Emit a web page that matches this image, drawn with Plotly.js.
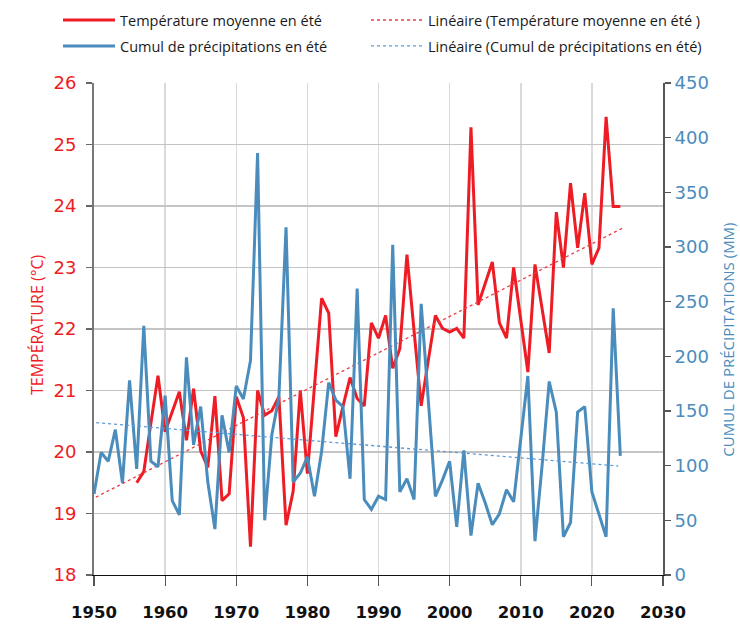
<!DOCTYPE html>
<html>
<head>
<meta charset="utf-8">
<script src="https://cdn.plot.ly/plotly-3.0.1.min.js"></script>
<style>
  html, body { margin: 0; padding: 0; background: #ffffff; }
  #chart { width: 740px; height: 628px; }
</style>
</head>
<body>
<div id="chart"></div>
<script>
// ---- Data ----
const years = [
  1950,1951,1952,1953,1954,1955,1956,1957,1958,1959,
  1960,1961,1962,1963,1964,1965,1966,1967,1968,1969,
  1970,1971,1972,1973,1974,1975,1976,1977,1978,1979,
  1980,1981,1982,1983,1984,1985,1986,1987,1988,1989,
  1990,1991,1992,1993,1994,1995,1996,1997,1998,1999,
  2000,2001,2002,2003,2004,2005,2006,2007,2008,2009,
  2010,2011,2012,2013,2014,2015,2016,2017,2018,2019,
  2020,2021,2022,2023,2024
];

// Summer mean temperature (°C); no data before 1956
const temperature = [
  null,null,null,null,null,null,19.50,19.68,20.47,21.24,
  20.33,20.65,20.98,20.19,21.03,20.02,19.75,20.91,19.21,19.32,
  20.90,20.56,18.46,21.00,20.60,20.67,20.90,18.81,19.36,21.00,
  19.65,21.07,22.50,22.26,20.25,20.74,21.21,20.87,20.75,22.10,
  21.85,22.22,21.36,21.68,23.21,21.97,20.75,21.49,22.22,22.01,
  21.95,22.01,21.85,25.28,22.39,22.74,23.09,22.10,21.85,23.00,
  22.15,21.30,23.05,22.33,21.61,23.90,23.00,24.37,23.32,24.21,
  23.05,23.32,25.45,23.99,23.99
];

// Summer cumulative precipitation (mm)
const precipitation = [
  74,112,104,133,84,178,97,228,104,99,
  164,68,55,199,119,154,85,42,146,112,
  173,161,196,386,50,128,163,318,85,93,
  108,72,113,176,160,154,88,262,69,60,
  72,69,302,76,88,69,248,160,72,87,
  104,44,114,36,84,66,46,56,78,67,
  125,182,31,100,177,149,35,48,149,154,
  76,56,35,244,109
];

// Linear trend lines (end points)
const trendYears = [1949.5, 2024.3];
const trendTemperature = [19.22, 23.64];
const trendPrecipYears = [1950.3, 2023.7];
const trendPrecipitation = [139.3, 99.7];

// Labels
const nameTemp = 'Température moyenne en été';
const namePrecip = 'Cumul de précipitations en été';
const nameTrendTemp = 'Linéaire (Température moyenne en été )';
const nameTrendPrecip = 'Linéaire (Cumul de précipitations en été)';
const yTitleLeft = 'TEMPÉRATURE (°C)';
const yTitleRight = 'CUMUL DE PRÉCIPITATIONS (MM)';

// ---- Styling ----
const RED = '#ee1c25';
const BLUE = '#4a8cbc';
const FONT = 'Open Sans, Lato, sans-serif';
const NUMFONT = 'DejaVu Sans, sans-serif';

const traces = [
  {
    x: years, y: temperature, type: 'scatter', mode: 'lines',
    name: nameTemp, line: { color: RED, width: 3 },
    connectgaps: false, legend: 'legend'
  },
  {
    x: trendYears, y: trendTemperature, type: 'scatter', mode: 'lines',
    name: nameTrendTemp, line: { color: '#ee3a42', width: 1.3, dash: 'dot' },
    legend: 'legend3'
  },
  {
    x: years, y: precipitation, type: 'scatter', mode: 'lines',
    name: namePrecip, yaxis: 'y2', line: { color: BLUE, width: 3 },
    legend: 'legend2'
  },
  {
    x: trendPrecipYears, y: trendPrecipitation, type: 'scatter', mode: 'lines',
    name: nameTrendPrecip, yaxis: 'y2', line: { color: '#5b9bd5', width: 1.3, dash: 'dot' },
    legend: 'legend4'
  }
];

const legendFont = { family: FONT, size: 14.5, color: '#1a1a1a', weight: 500 };
function mkLegend(x, y) {
  return {
    x: x, y: y, xanchor: 'left', yanchor: 'middle',
    xref: 'container', yref: 'container', itemwidth: 52,
    bgcolor: 'rgba(0,0,0,0)', borderwidth: 0,
    font: legendFont, itemclick: false, itemdoubleclick: false
  };
}

const layout = {
  width: 740, height: 628,
  margin: { l: 94, r: 77, t: 83, b: 53, pad: 0, autoexpand: false },
  paper_bgcolor: '#ffffff', plot_bgcolor: '#ffffff',
  font: { family: FONT, size: 14, color: '#111' },
  showlegend: true,
  legend: mkLegend(0.0784, 0.968),
  legend2: mkLegend(0.0784, 0.9268),
  legend3: mkLegend(0.4946, 0.968),
  legend4: mkLegend(0.4946, 0.9268),
  xaxis: {
    range: [1950, 2030], tick0: 1950, dtick: 10,
    showgrid: true, gridcolor: '#dadada', gridwidth: 1.5,
    zeroline: false, showline: true, linecolor: '#111', linewidth: 1.3,
    ticks: 'outside', ticklen: 10, tickcolor: '#555', tickwidth: 1.2,
    ticklabelstandoff: 12,
    tickfont: { family: NUMFONT, size: 16.5, color: '#111', weight: 'bold' }
  },
  yaxis: {
    range: [18, 26], dtick: 1,
    showgrid: true, gridcolor: '#c4c4c4', gridwidth: 1.5,
    zeroline: false, showline: true, linecolor: '#777', linewidth: 2,
    ticks: 'outside', ticklen: 6, tickcolor: '#666', tickwidth: 1.2,
    ticklabelstandoff: 6,
    tickfont: { family: NUMFONT, size: 18, color: RED }
  },
  yaxis2: {
    range: [0, 450], dtick: 50, overlaying: 'y', side: 'right',
    showgrid: false, zeroline: false,
    showline: true, linecolor: '#555', linewidth: 2,
    ticks: 'outside', ticklen: 6, tickcolor: '#555', tickwidth: 1.2,
    ticklabelstandoff: 0,
    tickfont: { family: NUMFONT, size: 18, color: BLUE }
  },
  annotations: [
    { text: yTitleLeft, xref: 'paper', yref: 'paper', x: -0.1002, y: 0.51,
      xanchor: 'center', yanchor: 'middle', textangle: -90, showarrow: false,
      font: { family: FONT, size: 16, color: RED } },
    { text: yTitleRight, xref: 'paper', yref: 'paper', x: 1.114, y: 0.478,
      xanchor: 'center', yanchor: 'middle', textangle: -90, showarrow: false,
      font: { family: FONT, size: 15, color: BLUE } }
  ],
  shapes: [
    { type: 'line', xref: 'paper', x0: 0, x1: 1, yref: 'y', y0: 20, y1: 20,
      line: { color: '#d3ead0', width: 2 }, layer: 'between' }
  ]
};

Plotly.newPlot('chart', traces, layout, { displayModeBar: false, staticPlot: true });
</script>
</body>
</html>
